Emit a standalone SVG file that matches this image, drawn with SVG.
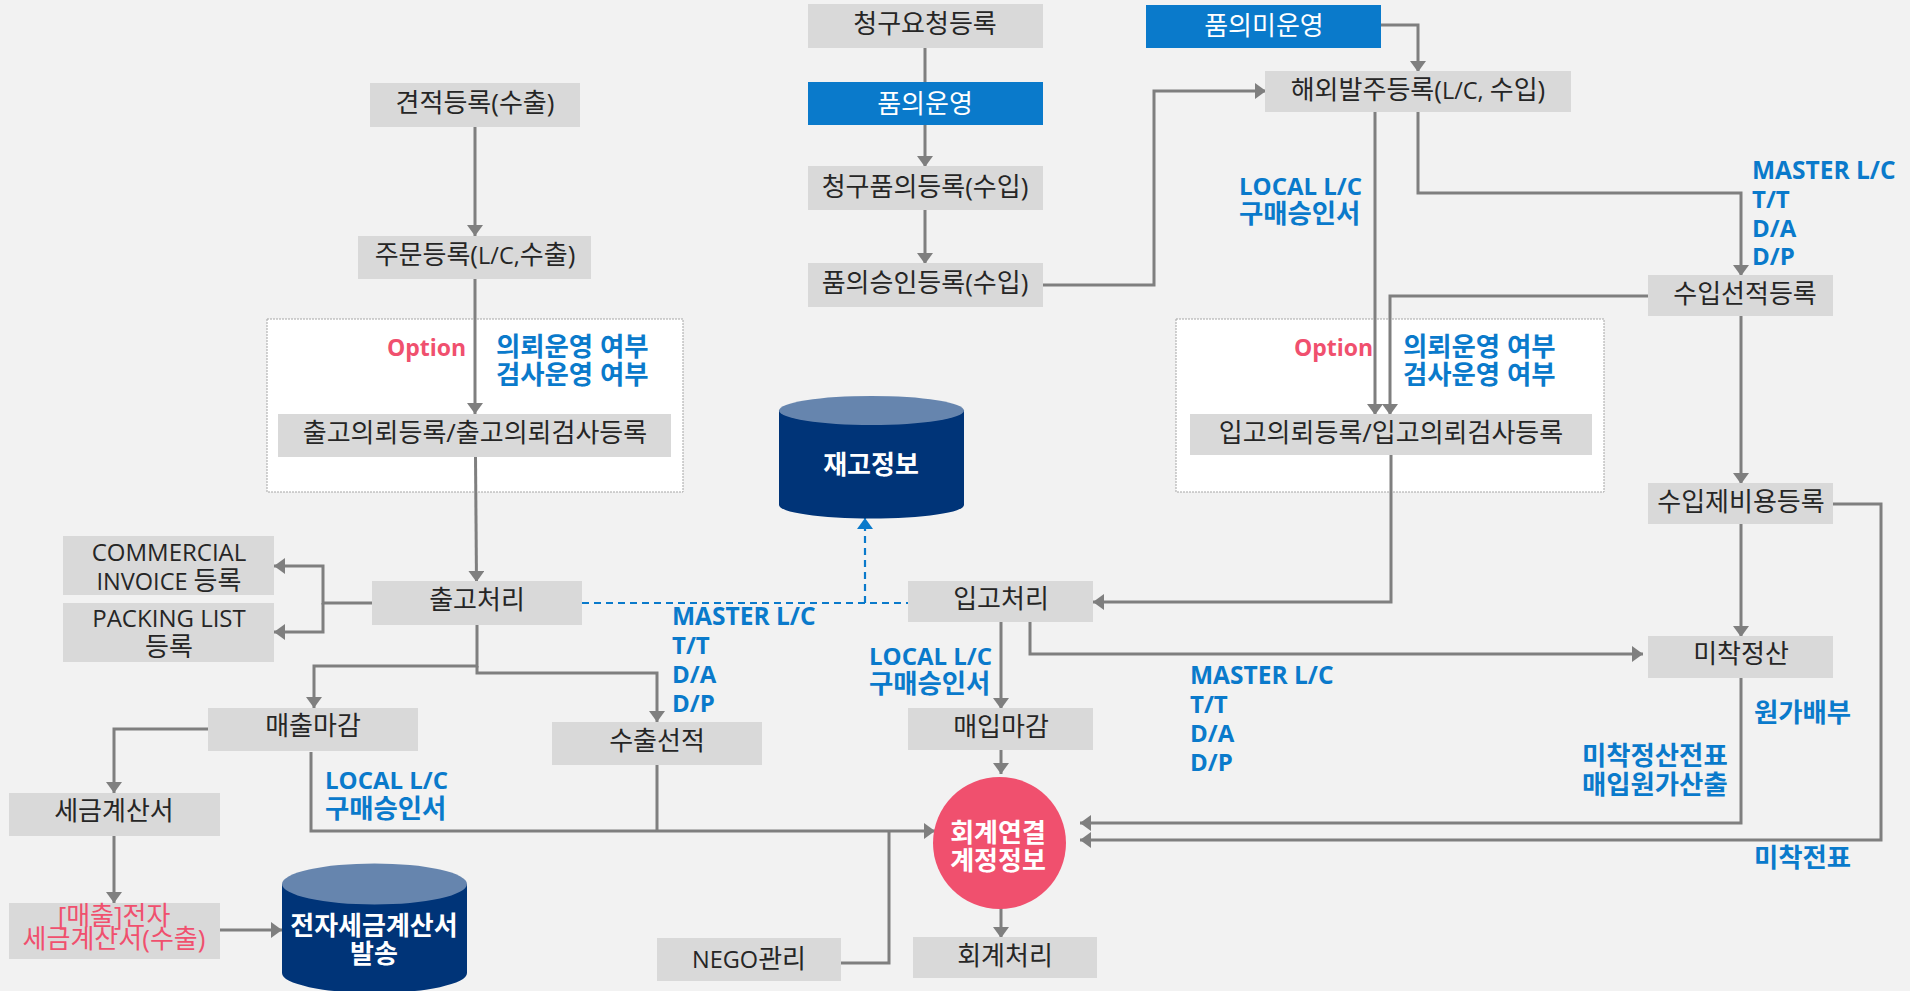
<svg xmlns="http://www.w3.org/2000/svg" width="1910" height="991" viewBox="0 0 1910 991">
<style>
text{font-family:"Open Sans","Noto Sans CJK KR",sans-serif;font-size:26px;fill:#262626;text-anchor:middle}
.e{font-size:23.500px}
.box{fill:#d9d9d9}
.bl{fill:#0a7acb}
.w{fill:#fff}
.wb{fill:#fff;font-weight:700}
.lb{fill:#0a7acb;font-weight:700;text-anchor:start;font-size:26.400px}
.le{fill:#0a7acb;font-weight:700;text-anchor:start;font-size:24px}
.op{fill:#f0506e;font-weight:700;text-anchor:start;font-size:23px}
.pk{fill:#f0506e}
.opt{fill:#fff;stroke:#a6a6a6;stroke-width:1;stroke-dasharray:2 1}
.c{fill:none;stroke:#7f7f7f;stroke-width:3;marker-end:url(#a)}
.t{fill:none;stroke:#7f7f7f;stroke-width:3}
.d{fill:none;stroke:#0a7acb;stroke-width:2.200;stroke-dasharray:7 5}
.top{fill:#6685ae}
.cy{fill:#003478}
</style>
<defs>
<marker id="a" markerUnits="userSpaceOnUse" markerWidth="11" markerHeight="16" refX="11" refY="8" orient="auto"><path d="M0 0L11 8L0 16Z" fill="#7f7f7f"/></marker>
<marker id="b" markerUnits="userSpaceOnUse" markerWidth="11" markerHeight="16" refX="11" refY="8" orient="auto"><path d="M0 0L11 8L0 16Z" fill="#0a7acb"/></marker>
</defs>
<rect width="1910" height="991" fill="#f2f2f2"/>
<g id="option-areas">
<rect class="opt" x="267" y="319" width="416" height="173"/>
<rect class="opt" x="1176" y="319" width="428" height="173"/>
</g>
<g id="connectors">
<path class="c" d="M475 127V236"/>
<path class="c" d="M475 278V414"/>
<path class="c" d="M475.500 456L476.500 582"/>
<path class="t" d="M925 48V82"/>
<path class="c" d="M925 125V167"/>
<path class="c" d="M925 210V264"/>
<path class="c" d="M1043 285H1154V91H1266"/>
<path class="c" d="M1381 25H1418V72"/>
<path class="c" d="M1375 112V415"/>
<path class="c" d="M1418 112V193H1741V276"/>
<path class="c" d="M1648 296H1390V415"/>
<path class="c" d="M1741 316V484"/>
<path class="c" d="M1741 524V637"/>
<path class="c" d="M1391 455V602H1093"/>
<path class="d" d="M582 603H908"/>
<path class="d" style="marker-end:url(#b)" d="M865 603V518"/>
<path class="c" d="M372 603H323V566H274"/>
<path class="c" d="M323 603V632H274"/>
<path class="c" d="M477 624V666H314V708"/>
<path class="c" d="M477 666V673H657V722"/>
<path class="c" d="M208 729H114V793"/>
<path class="c" d="M114 835V903"/>
<path class="c" d="M220 930H282"/>
<path class="c" d="M311 752V831H935"/>
<path class="t" d="M657 764V831"/>
<path class="t" d="M841 963H889V831"/>
<path class="c" d="M1001 622V709"/>
<path class="c" d="M1030 622V654H1643"/>
<path class="c" d="M1001 750V774"/>
<path class="c" d="M1001 908V938"/>
<path class="c" d="M1741 677V823H1080"/>
<path class="c" d="M1833 504H1881V840H1080"/>
</g>
<g id="n1"><rect class="box" x="370" y="83" width="210" height="44"/><text x="475" y="112">견적등록(수출)</text></g>
<g id="n2"><rect class="box" x="358" y="236" width="233" height="43"/><text x="475" y="264">주문등록(<tspan class="e">L/C,</tspan>수출)</text></g>
<g id="n3"><rect class="box" x="278" y="414" width="393" height="43"/><text x="475" y="442">출고의뢰등록/출고의뢰검사등록</text></g>
<g id="n4"><rect class="box" x="63" y="536" width="211" height="59"/><text class="e" x="169" y="561" style="font-size:24px">COMMERCIAL</text><text x="169" y="590"><tspan class="e">INVOICE </tspan>등록</text></g>
<g id="n5"><rect class="box" x="63" y="603" width="211" height="59"/><text class="e" x="169" y="627" style="font-size:24px">PACKING LIST</text><text x="169" y="656">등록</text></g>
<g id="n6"><rect class="box" x="372" y="581" width="210" height="44"/><text x="477" y="609">출고처리</text></g>
<g id="n7"><rect class="box" x="208" y="708" width="210" height="43"/><text x="313" y="735">매출마감</text></g>
<g id="n8"><rect class="box" x="552" y="722" width="210" height="43"/><text x="657" y="750">수출선적</text></g>
<g id="n9"><rect class="box" x="9" y="793" width="211" height="43"/><text x="114" y="820">세금계산서</text></g>
<g id="n10"><rect class="box" x="9" y="903" width="211" height="56"/><text class="pk" x="114" y="925">[매출]전자</text><text class="pk" x="114" y="948">세금계산서(수출)</text></g>
<g id="n11"><path class="cy" d="M282 884V973A92.500 20 0 0 0 467 973V884Z"/><ellipse class="top" cx="374.500" cy="884" rx="92.500" ry="20.500"/><text class="wb" x="374" y="935">전자세금계산서</text><text class="wb" x="374" y="963">발송</text></g>
<g id="n12"><rect class="box" x="657" y="938" width="184" height="43"/><text x="749" y="968"><tspan class="e">NEGO</tspan>관리</text></g>
<g id="n13"><rect class="box" x="808" y="4" width="235" height="44"/><text x="925" y="33">청구요청등록</text></g>
<g id="n14"><rect class="bl" x="808" y="82" width="235" height="43"/><text class="w" x="925" y="113">품의운영</text></g>
<g id="n15"><rect class="box" x="808" y="166" width="235" height="44"/><text x="925" y="196">청구품의등록(수입)</text></g>
<g id="n16"><rect class="box" x="808" y="263" width="235" height="44"/><text x="925" y="292">품의승인등록(수입)</text></g>
<g id="n17"><path class="cy" d="M779 410V505A92.500 13.500 0 0 0 964 505V410Z"/><ellipse class="top" cx="871.500" cy="410.500" rx="92.500" ry="14.500"/><text class="wb" x="871" y="474">재고정보</text></g>
<g id="n18"><rect class="bl" x="1146" y="5" width="235" height="43"/><text class="w" x="1264" y="35">품의미운영</text></g>
<g id="n19"><rect class="box" x="1265" y="71" width="306" height="41"/><text x="1418" y="99">해외발주등록(<tspan class="e">L/C, </tspan>수입)</text></g>
<g id="n20"><rect class="box" x="1648" y="275" width="185" height="41"/><text x="1745" y="303">수입선적등록</text></g>
<g id="n21"><rect class="box" x="1190" y="414" width="402" height="41"/><text x="1391" y="442">입고의뢰등록/입고의뢰검사등록</text></g>
<g id="n22"><rect class="box" x="1648" y="483" width="185" height="41"/><text x="1741" y="511">수입제비용등록</text></g>
<g id="n23"><rect class="box" x="908" y="581" width="185" height="41"/><text x="1001" y="608">입고처리</text></g>
<g id="n24"><rect class="box" x="1648" y="636" width="185" height="42"/><text x="1741" y="663">미착정산</text></g>
<g id="n25"><rect class="box" x="908" y="708" width="185" height="42"/><text x="1001" y="736">매입마감</text></g>
<g id="n26"><ellipse cx="999.500" cy="843" rx="66.500" ry="66" fill="#f0506e"/><text class="wb" x="998" y="842">회계연결</text><text class="wb" x="998" y="870">계정정보</text></g>
<g id="n27"><rect class="box" x="913" y="937" width="184" height="41"/><text x="1005" y="965">회계처리</text></g>
<g id="labels">
<text class="op" x="387" y="356">Option</text>
<text class="lb" x="496" y="356">의뢰운영 여부</text>
<text class="lb" x="496" y="384">검사운영 여부</text>
<text class="op" x="1294" y="356">Option</text>
<text class="lb" x="1403" y="356">의뢰운영 여부</text>
<text class="lb" x="1403" y="384">검사운영 여부</text>
<text class="le" x="1239" y="195">LOCAL L/C</text>
<text class="lb" x="1239" y="223">구매승인서</text>
<text class="le" x="1752" y="179" style="font-size:24.500px">MASTER L/C</text>
<text class="le" x="1752" y="208">T/T</text>
<text class="le" x="1752" y="237">D/A</text>
<text class="le" x="1752" y="265">D/P</text>
<text class="le" x="672" y="625" style="font-size:24.500px">MASTER L/C</text>
<text class="le" x="672" y="654">T/T</text>
<text class="le" x="672" y="683">D/A</text>
<text class="le" x="672" y="712">D/P</text>
<text class="le" x="869" y="665">LOCAL L/C</text>
<text class="lb" x="869" y="693">구매승인서</text>
<text class="le" x="1190" y="684" style="font-size:24.500px">MASTER L/C</text>
<text class="le" x="1190" y="713">T/T</text>
<text class="le" x="1190" y="742">D/A</text>
<text class="le" x="1190" y="771">D/P</text>
<text class="le" x="325" y="789">LOCAL L/C</text>
<text class="lb" x="325" y="818">구매승인서</text>
<text class="lb" x="1754" y="722">원가배부</text>
<text class="lb" x="1582" y="765">미착정산전표</text>
<text class="lb" x="1582" y="794">매입원가산출</text>
<text class="lb" x="1754" y="867">미착전표</text>
</g>
</svg>
